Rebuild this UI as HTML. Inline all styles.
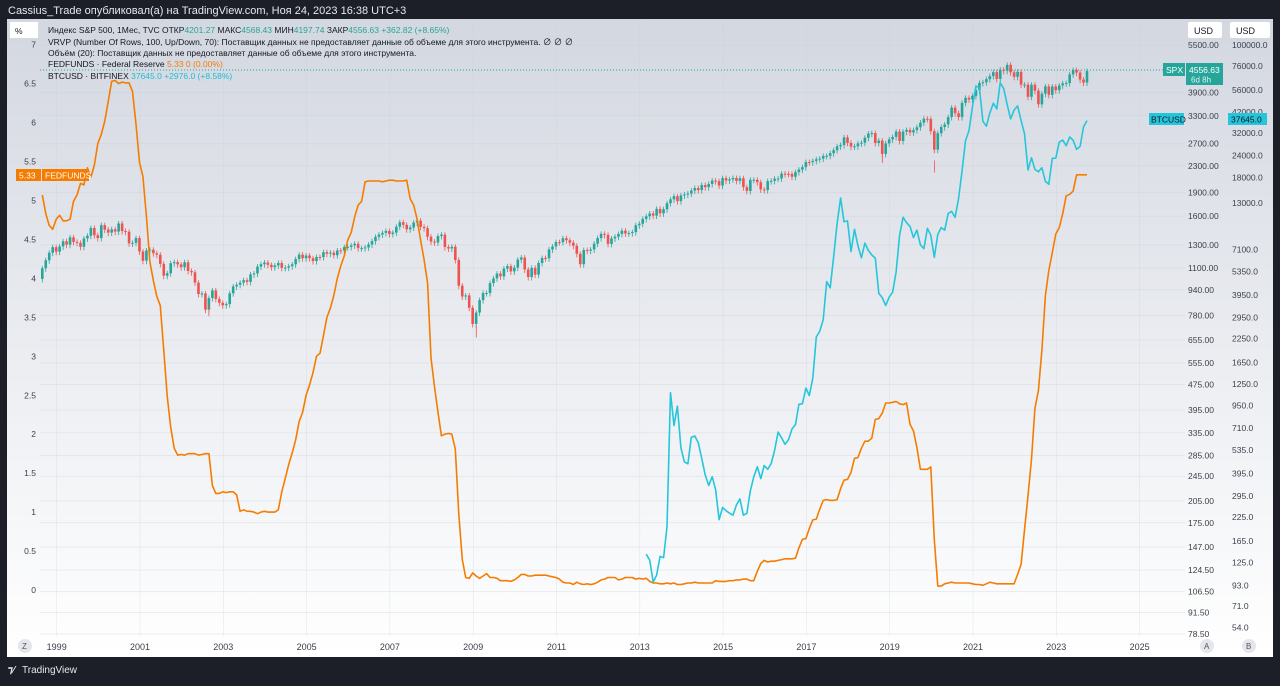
<!DOCTYPE html>
<html><head><meta charset="utf-8">
<style>
html,body{margin:0;padding:0;background:#1c1f27;}
body{width:1280px;height:681px;overflow:hidden;font-family:"Liberation Sans","Noto Sans CJK SC",sans-serif;}
svg text{font-family:"Liberation Sans","Noto Sans CJK SC",sans-serif;}
</style></head><body>
<svg id="chart" width="1280" height="681" xmlns="http://www.w3.org/2000/svg">
<defs>
<linearGradient id="bg" x1="0" y1="0" x2="0" y2="1">
<stop offset="0" stop-color="#d3d7e0"/><stop offset="0.55" stop-color="#eceef2"/><stop offset="1" stop-color="#ffffff"/>
</linearGradient>
</defs>
<rect x="0" y="0" width="1280" height="681" fill="#1c1f27"/>
<text x="8" y="14" font-size="11" fill="#e6e8ee">Cassius_Trade опубликовал(а) на TradingView.com, Ноя 24, 2023 16:38 UTC+3</text>
<rect x="7" y="19" width="1266" height="638" fill="url(#bg)"/>
<g id="grid"></g>
<line x1="40" y1="70" x2="1185" y2="70" stroke="#26a69a" stroke-width="1" stroke-dasharray="1,2"/>
<g id="spx"></g>
<g id="fed"></g>
<g id="btc"></g>
<g id="axes"></g>
<g font-size="8.5" fill="#131722">
<text x="48" y="33">Индекс S&amp;P 500, 1Мес, TVC  ОТКР<tspan fill="#26a69a">4201.27</tspan>  МАКС<tspan fill="#26a69a">4568.43</tspan>  МИН<tspan fill="#26a69a">4197.74</tspan>  ЗАКР<tspan fill="#26a69a">4556.63  +362.82 (+8.65%)</tspan></text>
<text x="48" y="45">VRVP (Number Of Rows, 100, Up/Down, 70): Поставщик данных не предоставляет данные об объеме для этого инструмента.  ∅  ∅  ∅</text>
<text x="48" y="56">Объём (20): Поставщик данных не предоставляет данные об объеме для этого инструмента.</text>
<text x="48" y="67">FEDFUNDS · Federal Reserve  <tspan fill="#f57c00">5.33  0 (0.00%)</tspan></text>
<text x="48" y="79">BTCUSD · BITFINEX  <tspan fill="#22bcd4">37645.0  +2976.0 (+8.58%)</tspan></text>
</g>
<rect x="10" y="22" width="28" height="16" fill="#fff"/>
<text x="15" y="34" font-size="8.5" fill="#131722">%</text>
<rect x="1188" y="22" width="34" height="16" rx="2" fill="#fff"/>
<text x="1194" y="34" font-size="9" fill="#131722">USD</text>
<rect x="1230" y="22" width="40" height="16" rx="2" fill="#fff"/>
<text x="1236" y="34" font-size="9" fill="#131722">USD</text>
<g>
<rect x="16" y="169" width="25" height="12" fill="#f57c00"/><text x="19" y="178.5" font-size="8.5" fill="#fff">5.33</text>
<rect x="42" y="169" width="47" height="12" fill="#f57c00"/><text x="45" y="178.5" font-size="8.5" fill="#fff">FEDFUNDS</text>
</g>
<g>
<rect x="1163" y="63" width="22" height="13" fill="#26a69a"/><text x="1166" y="73" font-size="8.5" fill="#fff">SPX</text>
<rect x="1186" y="63" width="37" height="22" fill="#26a69a"/><text x="1189" y="73" font-size="8.5" fill="#fff">4556.63</text><text x="1191" y="82.5" font-size="8" fill="#e0f2f1">6d 8h</text>
</g>
<g>
<rect x="1149" y="113" width="35" height="12" fill="#26c6da"/><text x="1151" y="122.5" font-size="8.5" fill="#131722">BTCUSD</text>
<rect x="1228" y="113" width="39" height="12" fill="#26c6da"/><text x="1231" y="122.5" font-size="8.5" fill="#131722">37645.0</text>
</g>
<g>
<circle cx="25" cy="646" r="7" fill="#e4e6eb"/><text x="22" y="649" font-size="8" fill="#555">Z</text>
<circle cx="1207" cy="646" r="7" fill="#e4e6eb"/><text x="1204" y="649" font-size="8" fill="#555">A</text>
<circle cx="1249" cy="646" r="7" fill="#e4e6eb"/><text x="1246" y="649" font-size="8" fill="#555">B</text>
</g>
<g>
<text x="8" y="673" font-size="10" font-weight="bold" fill="#e6e8ee">⁊⁄</text>
<text x="22" y="673" font-size="10" fill="#e6e8ee">TradingView</text>
</g>
</svg>
<script>
const NS="http://www.w3.org/2000/svg";
// ---- data ----
const yearTicks=[1999,2001,2003,2005,2007,2009,2011,2013,2015,2017,2019,2021,2023,2025];
const fedTicks=[0,0.5,1,1.5,2,2.5,3,3.5,4,4.5,5,5.5,6,6.5,7];
const spxTicks=[5500,3900,3300,2700,2300,1900,1600,1300,1100,940,780,655,555,475,395,335,285,245,205,175,147,124.5,106.5,91.5,78.5];
const btcTicks=[100000,76000,56000,42000,32000,24000,18000,13000,7100,5350,3950,2950,2250,1650,1250,950,710,535,395,295,225,165,125,93,71,54];
const spxStart=1998.75; // Oct 1998
const spxOpen0=1017;
const spxClose=[1098,1164,1229,
1279,1238,1286,1335,1302,1373,1329,1320,1283,1362,1389,1469,
1394,1366,1499,1452,1421,1455,1431,1518,1437,1429,1315,1320,
1366,1240,1160,1249,1256,1224,1211,1134,1041,1060,1139,1148,
1130,1107,1147,1077,1067,990,912,916,815,886,936,880,
856,841,848,917,964,975,990,1008,996,1051,1058,1112,
1131,1145,1126,1107,1121,1141,1102,1104,1115,1130,1174,1212,
1181,1204,1181,1157,1192,1191,1234,1220,1229,1207,1249,1248,
1280,1281,1295,1311,1270,1270,1277,1304,1336,1378,1401,1418,
1438,1407,1421,1482,1531,1503,1455,1474,1527,1549,1481,1468,
1379,1331,1323,1386,1400,1280,1267,1283,1166,969,896,903,
826,735,798,873,919,919,987,1021,1057,1036,1096,1115,
1074,1104,1169,1187,1089,1031,1102,1049,1141,1183,1181,1258,
1286,1327,1326,1364,1345,1321,1292,1219,1131,1253,1247,1258,
1312,1366,1408,1398,1310,1362,1379,1407,1441,1412,1416,1426,
1498,1515,1569,1598,1631,1606,1686,1633,1682,1757,1806,1848,
1783,1859,1872,1884,1924,1960,1931,2003,1972,2018,2068,2059,
1995,2105,2068,2086,2107,2063,2104,1972,1920,2079,2080,2044,
1940,1932,2060,2065,2097,2099,2174,2171,2168,2126,2199,2239,
2279,2364,2363,2384,2412,2423,2470,2472,2519,2575,2648,2674,
2824,2714,2641,2648,2705,2718,2816,2902,2914,2712,2760,2507,
2704,2784,2834,2946,2752,2942,2980,2926,2977,3038,3141,3231,
3226,2954,2585,2912,3044,3100,3271,3500,3363,3270,3622,3756,
3714,3811,3973,4181,4204,4298,4395,4523,4308,4605,4567,4766,
4516,4374,4530,4132,4132,3785,4130,3955,3586,3872,4080,3840,
4077,3970,4109,4169,4180,4450,4589,4508,4288,4194,4557];
const spxLowMarks=[[2002.75,777],[2009.17,667],[2020.17,2192],[2018.92,2347]];
const fedStart=1998.75;
const fedValues=[5.07,4.83,4.68,
4.63,4.76,4.81,4.74,4.74,4.76,4.99,5.07,5.22,5.20,5.42,5.30,
5.45,5.73,5.85,6.02,6.27,6.53,6.54,6.50,6.52,6.51,6.51,6.40,
5.98,5.49,5.31,4.80,4.21,3.97,3.77,3.65,3.07,2.49,2.09,1.82,
1.73,1.74,1.73,1.75,1.75,1.75,1.73,1.74,1.75,1.75,1.34,1.24,
1.24,1.26,1.25,1.26,1.26,1.22,1.01,1.03,1.01,1.01,1.00,0.98,
1.00,1.01,1.00,1.00,1.00,1.03,1.26,1.43,1.61,1.76,1.93,2.16,
2.28,2.50,2.63,2.79,3.00,3.04,3.26,3.50,3.62,3.78,4.00,4.16,
4.29,4.49,4.59,4.79,4.94,4.99,5.24,5.25,5.25,5.25,5.25,5.24,
5.25,5.26,5.26,5.25,5.25,5.25,5.26,5.02,4.94,4.76,4.49,4.24,
3.94,2.98,2.61,2.28,1.98,2.00,2.01,2.00,1.81,0.97,0.39,0.16,
0.15,0.22,0.18,0.15,0.18,0.21,0.16,0.16,0.15,0.12,0.12,0.12,
0.11,0.13,0.16,0.20,0.20,0.18,0.18,0.19,0.19,0.19,0.19,0.18,
0.17,0.16,0.14,0.10,0.09,0.09,0.07,0.10,0.08,0.07,0.08,0.07,
0.08,0.10,0.13,0.14,0.16,0.16,0.16,0.13,0.14,0.16,0.16,0.16,
0.14,0.15,0.14,0.15,0.11,0.09,0.09,0.08,0.08,0.09,0.08,0.09,
0.07,0.07,0.08,0.09,0.09,0.10,0.09,0.09,0.09,0.09,0.09,0.12,
0.11,0.11,0.11,0.12,0.12,0.13,0.13,0.14,0.14,0.12,0.12,0.24,
0.34,0.38,0.36,0.37,0.37,0.38,0.39,0.40,0.40,0.40,0.41,0.54,
0.65,0.66,0.79,0.90,0.91,1.04,1.15,1.16,1.15,1.15,1.16,1.30,
1.41,1.42,1.51,1.69,1.70,1.82,1.91,1.91,1.95,2.19,2.20,2.27,
2.40,2.40,2.41,2.42,2.39,2.38,2.40,2.13,2.04,1.83,1.55,1.55,
1.55,1.58,0.65,0.05,0.05,0.08,0.09,0.10,0.09,0.09,0.09,0.09,
0.09,0.08,0.07,0.07,0.06,0.08,0.10,0.09,0.08,0.08,0.08,0.08,
0.08,0.08,0.20,0.33,0.77,1.21,1.68,2.33,2.56,3.08,3.78,4.10,
4.33,4.57,4.65,4.83,5.06,5.08,5.12,5.33,5.33,5.33,5.33];
const btcStart=2013.25; // Apr 2013
const btcValues=[139,129,97,106,135,133,198,1120,732,
940,550,458,447,628,640,586,480,387,338,378,320,
217,254,244,236,230,263,284,230,236,314,378,430,
369,437,416,448,531,673,624,575,609,700,742,964,
970,1190,1080,1350,2300,2480,2875,4700,4340,6450,9950,13850,
10200,10300,6930,9240,7500,6400,7730,7040,6630,6370,4040,3830,
3460,3850,4100,5320,8570,10800,10080,9600,8300,9150,7570,7200,
9350,8550,6440,8650,9450,9140,11350,11650,10780,13800,19700,28990,
33100,45200,58800,57700,37300,35040,41500,47100,43800,61300,57000,46300,
38500,43200,45500,37700,31800,19900,23300,20050,19430,20490,17170,16540,
23130,23150,28480,29250,27220,30480,29230,25940,26970,34660,37645];
// ---- scales ----
const xT=t=>140+(t-2001)*41.65;
const xS=t=>xT(t)-4;
const yFed=v=>590-v*77.9;
const ySpx=v=>45+Math.log(5500/v)*138.6;
const yBtc=v=>45+Math.log(100000/v)*77.4;
function mk(tag,attrs,parent){const e=document.createElementNS(NS,tag);for(const k in attrs)e.setAttribute(k,attrs[k]);parent.appendChild(e);return e;}
const grid=document.getElementById('grid'),axes=document.getElementById('axes');
spxTicks.forEach(v=>{
  const l=mk('line',{x1:40,x2:1185,y1:ySpx(v),y2:ySpx(v),stroke:'#c9ccd4','stroke-width':0.5,opacity:0.6},grid);
  
  
  const t=mk('text',{x:1188,y:ySpx(v)+3,'font-size':8.5,fill:'#3b3f4a'},axes);t.textContent=v.toFixed(2);
  
  
});
btcTicks.forEach(v=>{
  const t=mk('text',{x:1232,y:yBtc(v)+3,'font-size':8.5,fill:'#3b3f4a'},axes);t.textContent=v.toFixed(1);
  
  
});
fedTicks.forEach(v=>{
  const t=mk('text',{x:36,y:yFed(v)+3,'font-size':8.5,fill:'#3b3f4a','text-anchor':'end'},axes);t.textContent=String(v);
  
  
});
yearTicks.forEach(y=>{
  const l=mk('line',{x1:xT(y),x2:xT(y),y1:20,y2:636,stroke:'#c9ccd4','stroke-width':0.5,opacity:0.5},grid);
  
  
  const t=mk('text',{x:xT(y),y:650,'font-size':9,fill:'#3b3f4a','text-anchor':'middle'},axes);t.textContent=String(y);
  
  
});
// SPX candles
const spx=document.getElementById('spx');
spxClose.forEach((c,i)=>{
  const o=i===0?spxOpen0:spxClose[i-1];
  const x=xS(spxStart+i/12);
  const up=c>=o, col=up?'#26a69a':'#ef5350';
  const hi=Math.max(o,c)*1.018, lo=Math.min(o,c)*0.975;
  const w=mk('line',{x1:x,x2:x,y1:ySpx(hi),y2:ySpx(lo),stroke:col,'stroke-width':0.8},spx);
  
  
  const y1=ySpx(Math.max(o,c)),y2=ySpx(Math.min(o,c));
  const r=mk('rect',{x:x-1.3,y:y1,width:2.6,height:Math.max(1,y2-y1),fill:col},spx);
  
  
});
spxLowMarks.forEach(([t,v])=>{
  const x=xS(t);
  const w=mk('line',{x1:x,x2:x,y1:ySpx(v)-12,y2:ySpx(v),stroke:'#ef5350','stroke-width':0.8},spx);
  
  
});
// FED line
const fp=fedValues.map((v,i)=>xS(fedStart+i/12).toFixed(1)+','+yFed(v).toFixed(1)).join(' ');
const fl=mk('polyline',{points:fp,fill:'none',stroke:'#f57c00','stroke-width':1.6,'stroke-linejoin':'round'},document.getElementById('fed'));


// BTC line
const bp=btcValues.map((v,i)=>xS(btcStart+i/12).toFixed(1)+','+yBtc(v).toFixed(1)).join(' ');
const bl=mk('polyline',{points:bp,fill:'none',stroke:'#26c6da','stroke-width':1.6,'stroke-linejoin':'round'},document.getElementById('btc'));


</script>
</body></html>
